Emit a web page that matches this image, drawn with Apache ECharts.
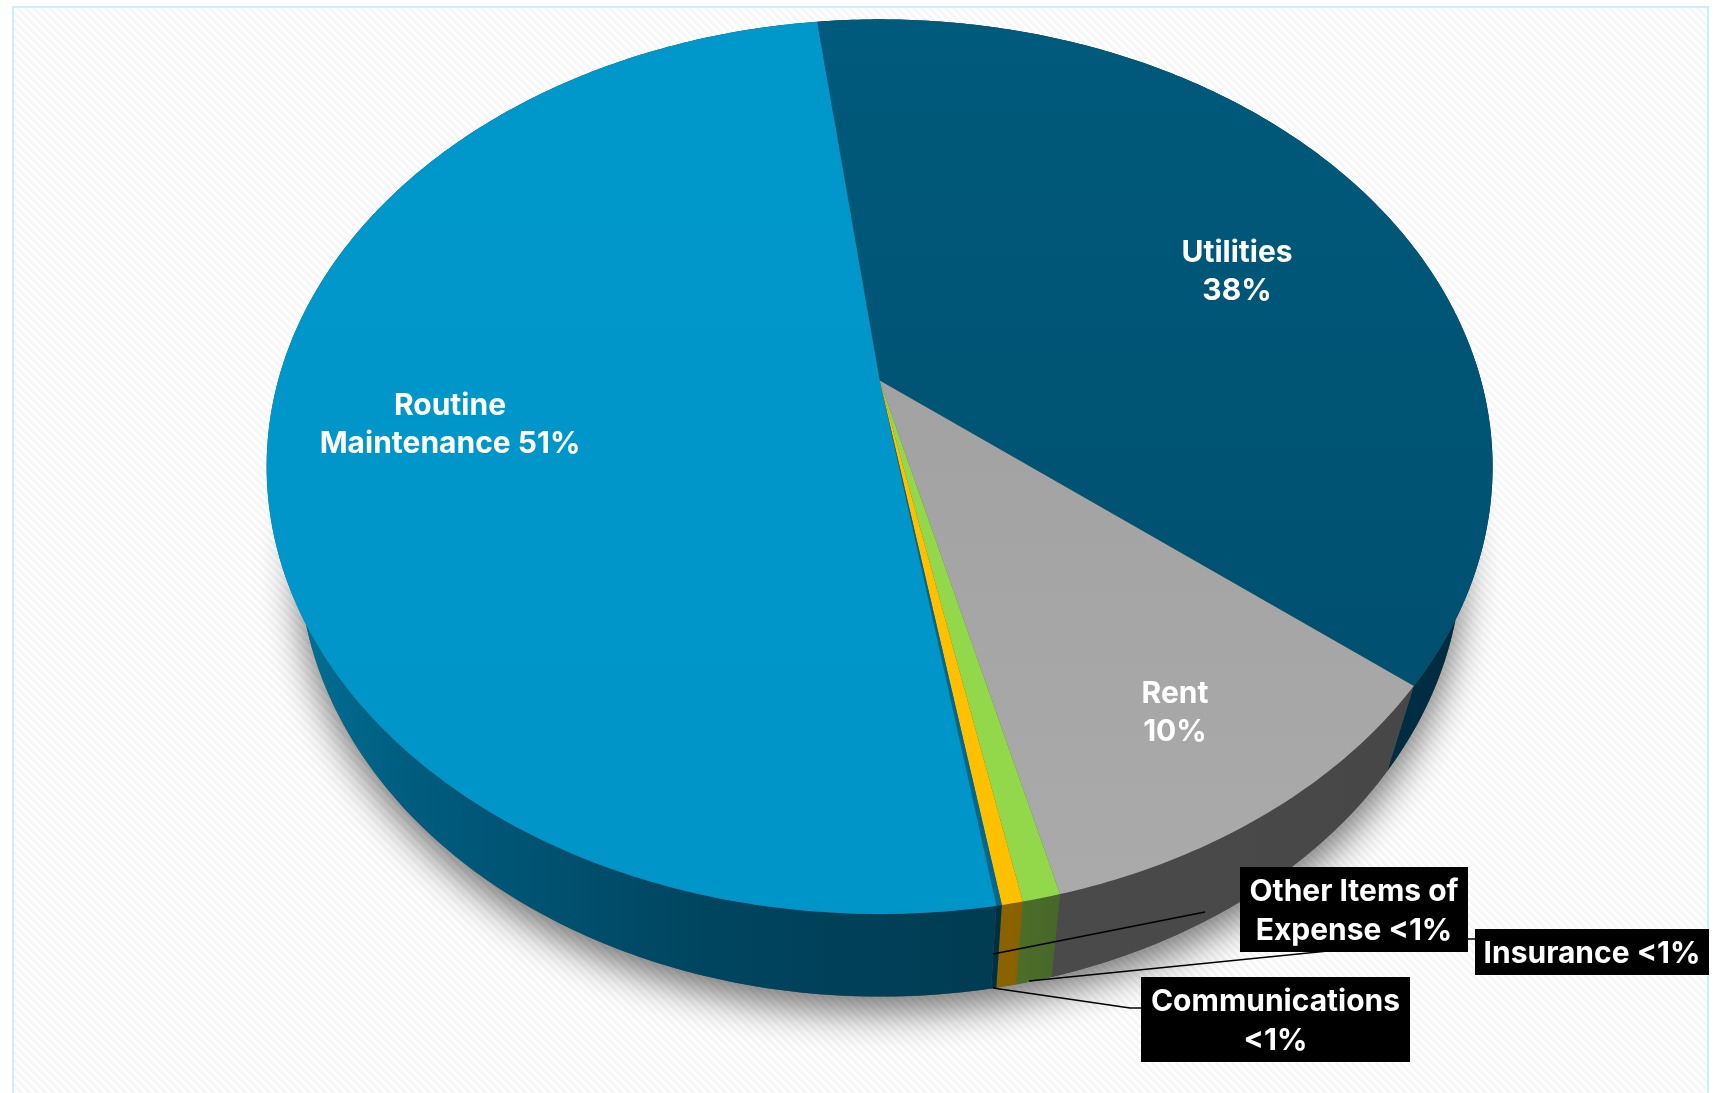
<!DOCTYPE html>
<html><head><meta charset="utf-8">
<style>html,body{margin:0;padding:0;background:#fff}#c{width:1721px;height:1093px}</style>
<script src="https://cdn.jsdelivr.net/npm/echarts@6/dist/echarts.min.js"></script>
</head><body><div id="c"></div>
<script>
// ---------- data ----------
const categories = ['Utilities','Rent','Insurance','Other Items of Expense','Communications','Routine Maintenance'];
const values     = [37.7, 10.35, 0.83, 0.46, 0.12, 50.54];
const labelTexts = ['Utilities\n38%','Rent\n10%','Insurance <1%','Other Items of\nExpense <1%','Communications\n<1%','Routine\nMaintenance 51%'];
const startAngle = -7.1;
// ---------- style ----------
const topColors  = [
  ['#005a7b','#005070'], ['#a2a2a2','#aaaaaa'], ['#92d84a','#92d84a'],
  ['#ffc000','#ffc000'], ['#00688c','#00688c'], ['#0097cb','#0095c8']];
const sideColors = [
  [[0,'#00344a'],[1,'#002c40']],
  [[0,'#4a4a4a'],[1,'#474747']],
  [[0,'#4d6e28'],[1,'#47672a']],
  [[0,'#8a6400'],[1,'#8a6000']],
  [[0,'#00303f'],[1,'#00303f']],
  [[0,'#00759b'],[0.2,'#005c7e'],[0.6,'#004560'],[1,'#003c52']]];
// ---------- projection of the disc (perspective) ----------
const P = 0.1926;
const TOP = {x:879.6, y:380.5, a:601.5, b:430.7};
const BOT = {x:880.3, y:469.1, a:570.7, b:425.9};
function proj(m, deg){
  const t = deg*Math.PI/180, u = Math.sin(t), v = -Math.cos(t), w = 1 - P*v;
  return [m.x + m.a*u/w, m.y + m.b*v/w];
}
const total = values.reduce((s,v)=>s+v,0);
function range(i){
  let s = startAngle;
  for(let k=0;k<i;k++) s += values[k]/total*360;
  return [s, s + values[i]/total*360];
}
function arc(m, a0, a1){
  const n = Math.max(4, Math.ceil(Math.abs(a1-a0)*1.5)), out=[];
  for(let i=0;i<=n;i++) out.push(proj(m, a0+(a1-a0)*i/n));
  return out;
}
const seriesData = values.map((v,i)=>({name:categories[i], value:v}));
function hatch(){
  const c=document.createElement('canvas'); c.width=c.height=8;
  const g=c.getContext('2d'); g.fillStyle='#ffffff'; g.fillRect(0,0,8,8);
  g.fillStyle='#f6f6f6';
  for(let y=0;y<8;y++)for(let x=0;x<8;x++) if(((x-y+16)%8)<4) g.fillRect(x,y,1,1);
  return c;
}
// ---------- annotation layout ----------
const FONT = '700 30px Inter';
const plain = {0:[1237,272],1:[1175,713],5:[450,425]};
const boxes = {2:[1475,929,234,46],3:[1240,867,228,85],4:[1141,977,269,85]};
const leaders = [
  [[1205,912],[993,954]],
  [[1029,981],[1328,951],[1468,939],[1475,939]],
  [[993,988],[1130,1008],[1141,1008]]
];
const option = {
  animation:false,
  graphic:{elements:[{type:'rect',z:-10,silent:true,
    shape:{x:13,y:7,width:1695,height:1100},
    style:{fill:{image:hatch(),repeat:'repeat'},stroke:'#c9f0fb',lineWidth:2}}]},
  series:[
    { // shadow
      type:'custom',coordinateSystem:'none',silent:true,z:1,data:[1],
      renderItem(){
        return {type:'polygon',shape:{points:arc(BOT,0,360)},
          style:{fill:'#555',shadowBlur:38,shadowColor:'rgba(0,0,0,0.55)',shadowOffsetY:15,shadowOffsetX:0}};
      }
    },
    { // side walls
      type:'custom',coordinateSystem:'none',silent:true,z:2,data:seriesData,
      renderItem(params){
        const i=params.dataIndex, [a0,a1]=range(i);
        return {type:'polygon',shape:{points:arc(TOP,a0,a1).concat(arc(BOT,a1,a0))},
          style:{fill:new echarts.graphic.LinearGradient(0,0,1,0,sideColors[i].map(s=>({offset:s[0],color:s[1]})))}};
      }
    },
    { // top faces
      type:'custom',coordinateSystem:'none',silent:true,z:3,data:seriesData,
      renderItem(params,api){
        const v=api.value(0), i=params.dataIndex, a0=range(i)[0];
        return {type:'polygon',shape:{points:[[TOP.x,TOP.y]].concat(arc(TOP,a0,a0+v/total*360))},
          style:{fill:new echarts.graphic.LinearGradient(0,0,0,1,[{offset:0,color:topColors[i][0]},{offset:1,color:topColors[i][1]}])}};
      }
    },
    { // leader lines
      type:'custom',coordinateSystem:'none',silent:true,z:4,data:leaders.map((l,i)=>i),
      renderItem(params){
        return {type:'polyline',shape:{points:leaders[params.dataIndex]},
          style:{fill:'none',stroke:'#000',lineWidth:1.6}};
      }
    },
    { // labels
      type:'custom',coordinateSystem:'none',silent:true,z:5,data:seriesData,
      renderItem(params){
        const i=params.dataIndex, children=[]; let x,y;
        if(boxes[i]){
          const b=boxes[i];
          children.push({type:'rect',shape:{x:b[0],y:b[1],width:b[2],height:b[3]},style:{fill:'#000'}});
          x=b[0]+b[2]/2; y=b[1]+b[3]/2+2;
        } else { x=plain[i][0]; y=plain[i][1]; }
        children.push({type:'text',style:{text:labelTexts[i],x,y,fill:'#fff',font:FONT,align:'center',verticalAlign:'middle',lineHeight:38.5}});
        return {type:'group',children};
      }
    }
  ]
};
echarts.init(document.getElementById('c'),null,{renderer:'canvas'}).setOption(option);
</script></body></html>
